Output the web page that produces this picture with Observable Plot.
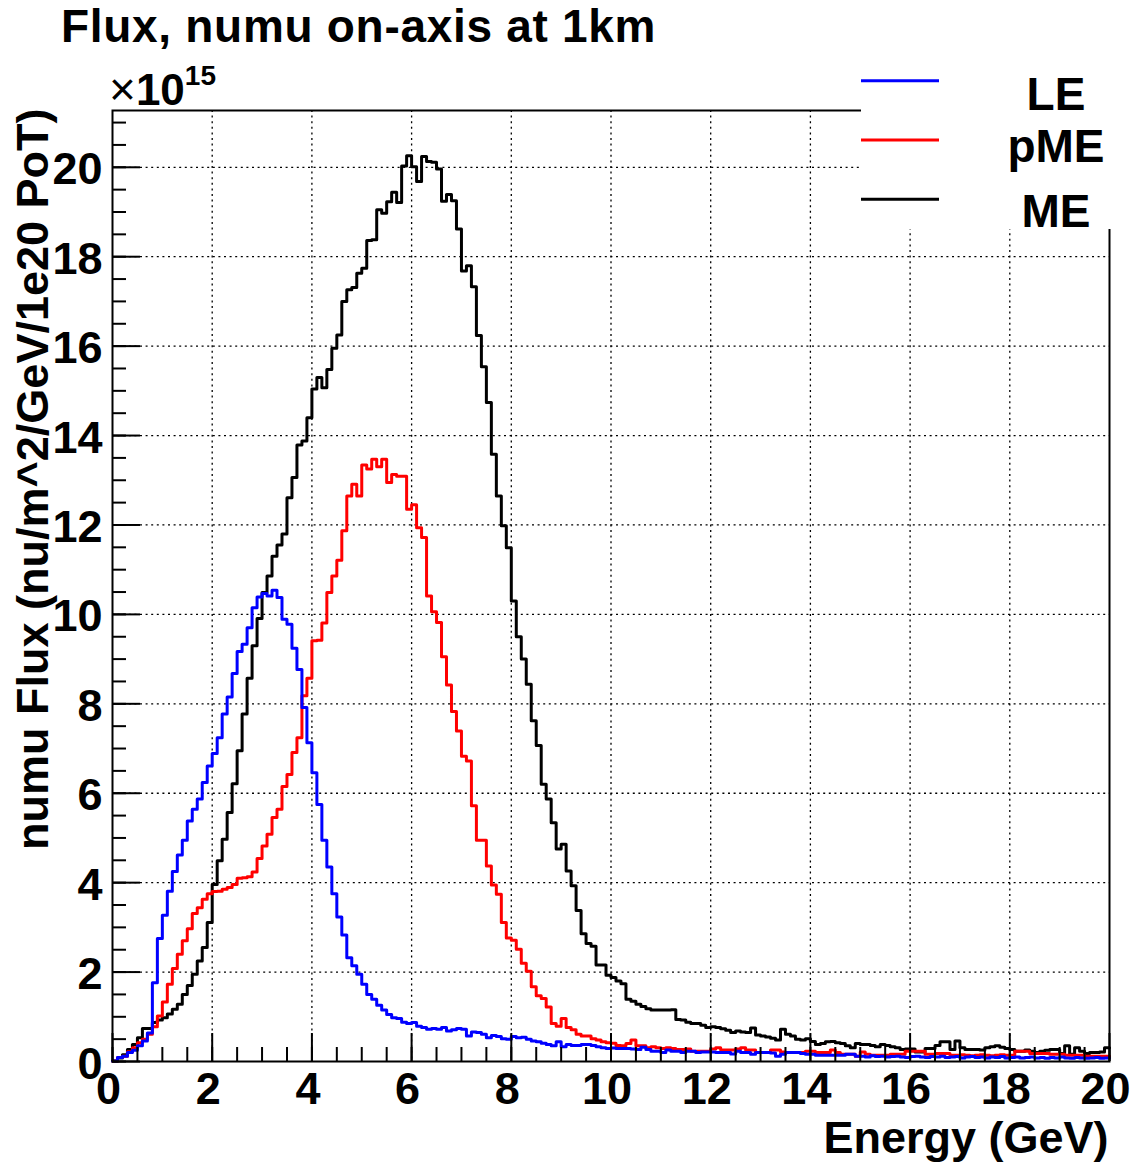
<!DOCTYPE html>
<html><head><meta charset="utf-8">
<script src="https://cdn.jsdelivr.net/npm/d3@7"></script>
<script src="https://cdn.jsdelivr.net/npm/@observablehq/plot@0.6"></script>
<style>
html,body{margin:0;padding:0;background:#fff;}
#chart{position:relative;width:1134px;height:1163px;overflow:hidden;}
</style></head><body><div id="chart"></div>
<script>
// ---------- data ----------
const binWidth = 0.1; // GeV
const seriesNames = ["LE", "pME", "ME"];
const seriesColors = ["#0000ff", "#ff0000", "#000000"];

const fluxLE = [
0.01,0.09,0.12,0.20,0.25,0.35,0.46,0.64,1.76,2.75,
3.27,3.81,4.25,4.62,4.95,5.38,5.64,5.87,6.24,6.61,
6.89,7.24,7.77,8.15,8.68,9.17,9.33,9.70,10.15,10.39,
10.47,10.41,10.54,10.38,9.89,9.78,9.24,8.77,7.92,7.13,
6.46,5.75,4.95,4.35,3.75,3.23,2.83,2.32,2.14,1.95,
1.73,1.50,1.39,1.26,1.15,1.05,0.98,0.96,0.88,0.85,
0.87,0.79,0.76,0.72,0.74,0.72,0.76,0.68,0.71,0.74,
0.72,0.57,0.66,0.65,0.61,0.53,0.58,0.56,0.51,0.50,
0.56,0.53,0.54,0.50,0.46,0.44,0.41,0.38,0.35,0.44,
0.33,0.38,0.36,0.36,0.38,0.38,0.36,0.33,0.31,0.29,
0.30,0.29,0.29,0.29,0.28,0.27,0.32,0.27,0.23,0.23,
0.20,0.26,0.23,0.23,0.20,0.23,0.23,0.20,0.21,0.21,
0.21,0.20,0.20,0.20,0.17,0.23,0.20,0.20,0.16,0.20,
0.20,0.20,0.19,0.12,0.16,0.20,0.20,0.20,0.18,0.16,
0.16,0.14,0.14,0.14,0.14,0.14,0.14,0.16,0.16,0.12,
0.12,0.10,0.13,0.11,0.12,0.10,0.11,0.12,0.10,0.09,
0.11,0.12,0.10,0.09,0.11,0.10,0.12,0.09,0.10,0.11,
0.08,0.10,0.11,0.09,0.10,0.08,0.10,0.09,0.11,0.08,
0.09,0.10,0.08,0.09,0.10,0.08,0.09,0.07,0.09,0.08,
0.10,0.08,0.07,0.09,0.08,0.07,0.08,0.09,0.07,0.08];

const fluxPME = [
0.01,0.09,0.12,0.22,0.31,0.42,0.50,0.61,0.78,1.02,
1.33,1.73,2.08,2.40,2.70,2.97,3.31,3.44,3.63,3.75,
3.80,3.81,3.85,3.89,3.96,4.10,4.11,4.13,4.24,4.54,
4.82,5.08,5.46,5.64,6.15,6.42,6.91,7.24,8.18,8.57,
9.41,9.42,9.81,10.49,10.86,11.21,11.87,12.65,12.91,12.65,
13.34,13.25,13.47,13.30,13.47,12.95,13.13,13.09,13.09,12.35,
12.45,11.94,11.72,10.41,10.06,9.82,9.05,8.42,7.83,7.39,
6.83,6.72,5.72,4.95,4.95,4.37,3.95,3.74,3.11,2.76,
2.71,2.51,2.20,2.02,1.67,1.47,1.41,1.22,0.85,0.79,
0.96,0.76,0.71,0.61,0.57,0.57,0.51,0.48,0.44,0.42,
0.41,0.36,0.35,0.40,0.48,0.35,0.35,0.31,0.33,0.31,
0.29,0.31,0.29,0.27,0.27,0.28,0.23,0.23,0.23,0.23,
0.28,0.31,0.26,0.26,0.26,0.28,0.31,0.26,0.26,0.20,
0.20,0.20,0.26,0.26,0.21,0.20,0.20,0.20,0.20,0.23,
0.23,0.20,0.20,0.20,0.26,0.20,0.16,0.16,0.16,0.12,
0.21,0.16,0.14,0.14,0.14,0.14,0.16,0.16,0.16,0.23,
0.23,0.23,0.23,0.16,0.16,0.18,0.18,0.18,0.14,0.14,
0.15,0.14,0.13,0.14,0.15,0.14,0.13,0.14,0.15,0.14,
0.14,0.23,0.23,0.23,0.18,0.18,0.18,0.18,0.16,0.16,
0.16,0.14,0.14,0.14,0.14,0.12,0.12,0.12,0.12,0.12];

const fluxME = [
0.01,0.08,0.15,0.27,0.38,0.53,0.74,0.74,0.87,0.93,
0.98,1.06,1.17,1.28,1.50,1.70,1.95,2.25,2.55,3.11,
3.96,4.49,4.97,5.57,6.21,6.95,7.77,8.57,9.30,9.91,
10.49,10.86,11.30,11.55,11.80,12.61,13.06,13.79,13.88,14.40,
15.04,15.30,15.07,15.48,15.95,16.25,17.00,17.26,17.31,17.63,
17.74,18.36,18.38,19.05,18.97,19.23,19.44,19.21,20.03,20.26,
20.01,19.68,20.24,20.13,20.11,19.96,19.24,19.39,19.25,18.62,
17.68,17.80,17.33,16.24,15.54,14.74,13.58,12.65,11.98,11.49,
10.30,9.50,9.00,8.44,7.62,7.07,6.20,5.87,5.34,4.75,
4.86,4.26,3.93,3.38,2.86,2.64,2.58,2.16,2.16,1.93,
1.88,1.80,1.74,1.39,1.35,1.28,1.23,1.18,1.15,1.15,
1.15,1.15,1.16,0.94,0.93,0.88,0.85,0.85,0.81,0.76,
0.78,0.76,0.73,0.70,0.65,0.68,0.66,0.65,0.75,0.59,
0.57,0.55,0.52,0.48,0.72,0.61,0.57,0.50,0.48,0.51,
0.45,0.38,0.40,0.44,0.45,0.42,0.40,0.35,0.31,0.40,
0.38,0.38,0.36,0.33,0.38,0.36,0.33,0.31,0.27,0.28,
0.28,0.21,0.21,0.29,0.29,0.36,0.44,0.44,0.27,0.46,
0.31,0.27,0.27,0.27,0.26,0.31,0.33,0.35,0.32,0.29,
0.27,0.23,0.23,0.26,0.23,0.20,0.23,0.25,0.27,0.27,
0.18,0.35,0.16,0.31,0.23,0.18,0.20,0.20,0.21,0.31];

const xDomain = [0, 20];
const yMaxValue = 21.27;
const xMajorTicks = [0, 2, 4, 6, 8, 10, 12, 14, 16, 18, 20];
const yMajorTicks = [0, 2, 4, 6, 8, 10, 12, 14, 16, 18, 20];
const xMinorTicks = d3.range(0, 20.001, 0.5);
const yMinorTicks = d3.range(0, 21.001, 0.5);

const titleText = "Flux, numu on-axis at 1km";
const xLabel = "Energy (GeV)";
const yLabel = "numu Flux (nu/m^2/GeV/1e20 PoT)";
const multiplierSign = "\u00d7";
const multiplierBase = "10";
const multiplierExp = "15";

// ---------- build rows ----------
function toSteps(values, name) {
  const r = values.map((v, i) => ({E: i * binWidth, flux: v, series: name}));
  r.push({E: values.length * binWidth, flux: values[values.length - 1], series: name});
  return r;
}
const rows = [
  ...toSteps(fluxME, "ME"),
  ...toSteps(fluxPME, "pME"),
  ...toSteps(fluxLE, "LE")
];

// ---------- layout ----------
const W = 1134, H = 1163;
const mL = 112, mR = 25, mT = 110, mB = 102;
const plotW = W - mL - mR, plotH = H - mT - mB;
const FONT = '"Liberation Sans", Arial, Helvetica, sans-serif';
const grid = {stroke: "black", strokeOpacity: 1, strokeWidth: 1.3, strokeDasharray: "2,3.6"};

const svg = Plot.plot({
  width: W, height: H,
  marginLeft: mL, marginRight: mR, marginTop: mT, marginBottom: mB,
  x: {domain: xDomain, axis: null},
  y: {domain: [0, yMaxValue], axis: null},
  color: {domain: seriesNames, range: seriesColors},
  style: {fontFamily: FONT, fontWeight: "bold", background: "white", color: "black", overflow: "visible"},
  marks: [
    Plot.gridX(xMajorTicks.filter(d => d > 0 && d < 20), grid),
    Plot.gridY(yMajorTicks.filter(d => d > 0), grid),
    Plot.line(rows, {x: "E", y: "flux", z: "series", stroke: "series", curve: "step-after", strokeWidth: 3}),
    Plot.tickX(xMinorTicks, {x: d => d, insetTop: plotH - 14, stroke: "black", strokeWidth: 2}),
    Plot.tickX(xMajorTicks, {x: d => d, insetTop: plotH - 28, stroke: "black", strokeWidth: 2}),
    Plot.tickY(yMinorTicks, {y: d => d, insetRight: plotW - 14, stroke: "black", strokeWidth: 2}),
    Plot.tickY(yMajorTicks, {y: d => d, insetRight: plotW - 28, stroke: "black", strokeWidth: 2}),
    Plot.frame({stroke: "black", strokeWidth: 2}),
    Plot.text(xMajorTicks, {x: d => d, frameAnchor: "bottom", text: d => String(d), dy: 42, dx: -4,
      lineAnchor: "bottom", fontSize: 45, fontWeight: "bold", fill: "black"}),
    Plot.text(yMajorTicks, {y: d => d, frameAnchor: "left", text: d => String(d), dx: -10, dy: 17,
      textAnchor: "end", lineAnchor: "bottom", fontSize: 45, fontWeight: "bold", fill: "black"}),
    Plot.text([xLabel], {frameAnchor: "bottom-right", text: d => d, dx: -1, dy: 91,
      textAnchor: "end", lineAnchor: "bottom", fontSize: 45, fontWeight: "bold", fill: "black"}),
    Plot.text([yLabel], {frameAnchor: "top-left", text: d => d, rotate: -90, dx: -65, dy: -2,
      textAnchor: "end", lineAnchor: "bottom", fontSize: 45, fontWeight: "bold", fill: "black"})
  ]
});
document.getElementById("chart").appendChild(svg);

// ---------- title, multiplier, legend ----------
const s = d3.select(svg);
s.append("text")
  .attr("x", 61).attr("y", 42).attr("text-anchor", "start")
  .attr("font-family", FONT).attr("font-weight", "bold").attr("font-size", 46)
  .attr("letter-spacing", "0.7px").attr("fill", "black")
  .text(titleText);
const mt = s.append("text")
  .attr("x", 109).attr("y", 105).attr("text-anchor", "start")
  .attr("font-family", FONT).attr("font-weight", "bold").attr("font-size", 44).attr("fill", "black");
mt.append("tspan").attr("font-weight", "normal").attr("font-size", 46).text(multiplierSign);
mt.append("tspan").text(multiplierBase);
mt.append("tspan").attr("dy", -20).attr("font-size", 28).text(multiplierExp);

const lg = s.append("g");
lg.append("rect").attr("x", 861).attr("y", 52).attr("width", W - 861).attr("height", 177).attr("fill", "white");
const legendRows = [
  {name: "LE", color: seriesColors[0], lineY: 80.7, textY: 110},
  {name: "pME", color: seriesColors[1], lineY: 140, textY: 162},
  {name: "ME", color: seriesColors[2], lineY: 199.3, textY: 227}
];
legendRows.forEach(r => {
  lg.append("line").attr("x1", 861).attr("x2", 939).attr("y1", r.lineY).attr("y2", r.lineY)
    .attr("stroke", r.color).attr("stroke-width", 3);
  lg.append("text").attr("x", 1056).attr("y", r.textY).attr("text-anchor", "middle")
    .attr("font-family", FONT).attr("font-weight", "bold").attr("font-size", 46).attr("fill", "black")
    .text(r.name);
});
</script>
</body></html>
